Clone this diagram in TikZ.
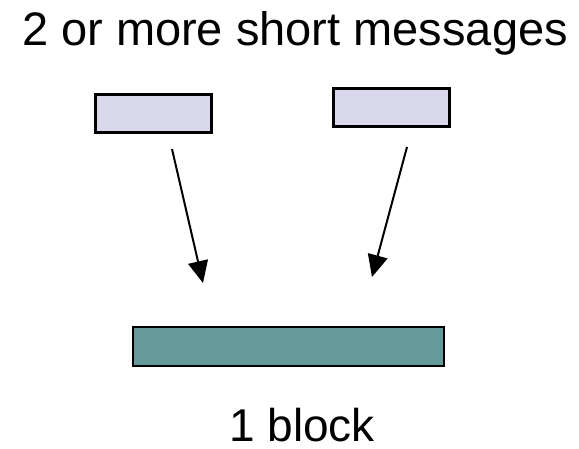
\documentclass[tikz,border=0pt]{standalone}
\usepackage{fontspec}
\setmainfont{Liberation Sans}
\usetikzlibrary{arrows.meta, positioning}
\definecolor{msgfill}{RGB}{216,216,234}
\definecolor{blockfill}{RGB}{102,153,153}
\tikzset{
  msg/.style={
    rectangle, draw=black, line width=3pt, fill=msgfill,
    minimum width=116pt, minimum height=38pt, inner sep=0pt
  },
  blk/.style={
    rectangle, draw=black, line width=2pt, fill=blockfill,
    minimum width=311pt, minimum height=39pt, inner sep=0pt
  },
  lbl/.style={font=\fontsize{46}{52}\selectfont, inner sep=0pt, anchor=base},
  arr/.style={-{Triangle[length=22pt,width=20pt]}, line width=2pt}
}

\begin{document}
\begin{tikzpicture}[x=1pt,y=-1pt]
  \useasboundingbox (0,0) rectangle (579,448);

  \node[lbl, font=\fontsize{47}{52}\selectfont] (title) at (295,45)
        {2 or more short messages};

  % the two short messages
  \node[msg] (m1) at (153,113) {};
  \node[msg] (m2) at (391.5,107.5) {};

  % the block they end up in
  \node[blk] (block) at (288.5,346.5) {};
  \node[lbl] (bname) at (302,441) {1 block};

  \coordinate (a1) at (172,149);
  \coordinate (b1) at (203,283);
  \coordinate (a2) at (407,147);
  \coordinate (b2) at (372,277);

  \draw[arr] (a1) -- (b1);
  \draw[arr] (a2) -- (b2);
\end{tikzpicture}
\end{document}
